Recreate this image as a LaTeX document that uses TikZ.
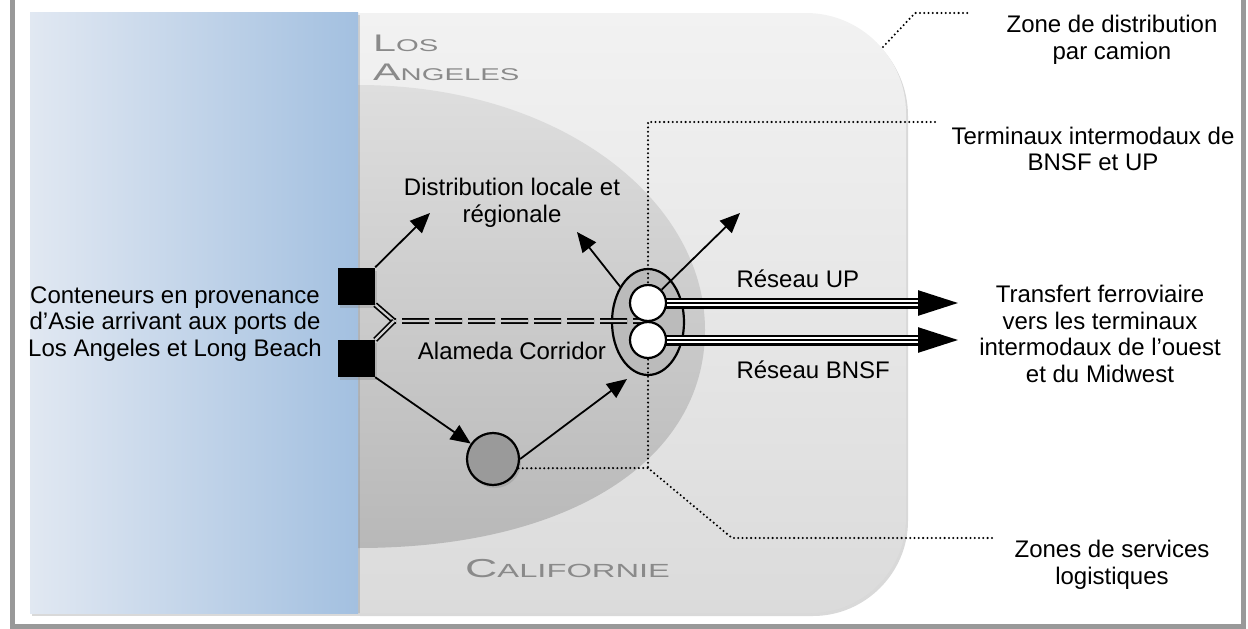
\documentclass[tikz,border=0pt]{standalone}
\usepackage{fontspec}
\setmainfont{Liberation Sans}
\newfontfamily\capsfont[FakeStretch=1.72]{Liberation Sans}
\usetikzlibrary{arrows.meta,shapes.geometric,shadows}
\definecolor{framegray}{HTML}{999999}
\definecolor{cagrayT}{HTML}{F2F2F2}
\definecolor{cagrayB}{HTML}{DBDBDB}
\definecolor{lagrayT}{HTML}{DEDEDE}
\definecolor{lagrayB}{HTML}{B8B8B8}
\definecolor{lagray}{HTML}{CFCFCF}
\definecolor{seaL}{HTML}{E1E8F2}
\definecolor{seaR}{HTML}{A3C0E0}
\definecolor{termgray}{HTML}{BBBBBB}
\definecolor{logigray}{HTML}{9A9A9A}
\definecolor{capgray}{HTML}{8A8A8A}
\newcommand{\capword}[2]{{\fontsize{24}{24}\selectfont #1}{\fontsize{17}{17}\selectfont #2}}

\tikzset{
  lbl/.style={align=center, font=\fontsize{24}{26.5}\selectfont},
  caps/.style={anchor=base west, text=capgray, font=\capsfont, inner sep=0pt},
  softshadow/.style={drop shadow={opacity=0.3, shadow xshift=2pt, shadow yshift=-3pt}},
  port/.style={fill=black, minimum size=37pt, inner sep=0pt, softshadow},
  yard/.style={circle, draw, line width=2.2pt, fill=white, minimum size=36pt, inner sep=0pt},
  flow/.style={-{Triangle[length=20pt,width=17pt]}, line width=1.8pt},
  leader/.style={line width=2.3pt, dash pattern=on 0pt off 4.3pt, line cap=round},
  corridor/.style={double=lagray, double distance=2.2pt, line width=1.7pt, dash pattern=on 27pt off 6pt}
}

\begin{document}
\begin{tikzpicture}[x=1pt,y=-1pt,>=Stealth]
  \useasboundingbox (0,0) rectangle (1248,629);
  % frame
  \draw[framegray, line width=5pt] (12,-20) rectangle (1243,626);

  % Californie
  \path[top color=cagrayT, bottom color=cagrayB, softshadow]
    (358,13) -- (806,13) .. controls (861,13) and (906,58) .. (906,113)
    -- (906,518) .. controls (906,570) and (863,613) .. (811,613) -- (358,613) -- cycle;
  % Los Angeles
  \path[top color=lagrayT, bottom color=lagrayB]
    (358,85) .. controls (560,85) and (705,200) .. (705,330)
    .. controls (705,460) and (570,548) .. (358,548) -- cycle;
  % ocean
  \path[left color=seaL, right color=seaR, softshadow] (30,12) rectangle (358,613);

  \node[caps] (laLblA) at (373,51) {\capword{L}{OS}};
  \node[caps] (laLblB) at (373,80) {\capword{A}{NGELES}};
  \node[caps] (caLbl) at (465,577) {{\fontsize{26}{26}\selectfont C}{\fontsize{19}{19}\selectfont ALIFORNIE}};

  % terminals and logistics zone
  \node[ellipse, draw, line width=2.2pt, fill=termgray, minimum width=72pt,
        minimum height=106pt, inner sep=0pt] (term) at (648,322) {};
  \node[circle, draw, line width=2.2pt, fill=logigray, minimum size=52pt,
        inner sep=0pt, softshadow] (logi) at (493,459) {};

  % leaders
  \draw[leader] (883,47) -- (915,13) -- (970,13);
  \draw[leader] (935,122) -- (648,122) -- (648,468);
  \draw[leader] (logi.-20) -- (648,468) -- (732,538) -- (992,538);

  % Alameda Corridor
  \node[port] (portN) at (356.5,286) {};
  \node[port] (portS) at (356.5,358.5) {};
  \coordinate (alJ) at (394,321);
  \coordinate (alE) at (642,321);
  \draw[corridor] (portN.south east) -- (alJ) -- (alE);
  \draw[corridor] (portS.north east) -- (alJ);

  % rail lines
  \coordinate (upPt) at (648,303);
  \coordinate (dnPt) at (648,340);
  \coordinate (upTip) at (958,303);
  \coordinate (dnTip) at (958,340);
  \foreach \c/\t in {upPt/upTip, dnPt/dnTip} {
    \draw[line width=11pt, shorten >=40pt] (\c) -- (\t);
    \draw[white, line width=6.5pt, shorten >=40pt] (\c) -- (\t);
    \draw[line width=2.5pt, -{Triangle[length=40pt,width=25pt]}] (\c) -- (\t);
  }
  \node[yard] (dnC) at (dnPt) {};
  \node[yard] (upC) at (upPt) {};

  % flows
  \coordinate (distW) at (430,213);
  \coordinate (distM) at (577,232);
  \coordinate (distE) at (740,213);
  \coordinate (termIn) at (627,379);
  \draw[flow] (portN.north east) -- (distW);
  \draw[flow] (portS.south east) -- (logi);
  \draw[flow] (logi.east) -- (termIn);
  \draw[flow] (term) -- (distM);
  \draw[flow] (upC) -- (distE);

  % labels
  \node[lbl] (portLbl) at (175,324) {Conteneurs en provenance\\d’Asie arrivant aux ports de\\Los Angeles et Long Beach};
  \node[lbl] (distLbl) at (512,203) {Distribution locale et\\régionale};
  \node[lbl] (corrLbl) at (512,351) {Alameda Corridor};
  \node[lbl, anchor=west] (upLbl) at (733,279) {Réseau UP};
  \node[lbl, anchor=west] (bnsfLbl) at (733,370) {Réseau BNSF};
  \node[lbl] (truckLbl) at (1112,40) {Zone de distribution\\par camion};
  \node[lbl] (termLbl) at (1093,149) {Terminaux intermodaux de\\BNSF et UP};
  \node[lbl] (railLbl) at (1100,334) {Transfert ferroviaire\\vers les terminaux\\intermodaux de l’ouest\\et du Midwest};
  \node[lbl] (logiLbl) at (1112,565) {Zones de services\\logistiques};
\end{tikzpicture}
\end{document}
